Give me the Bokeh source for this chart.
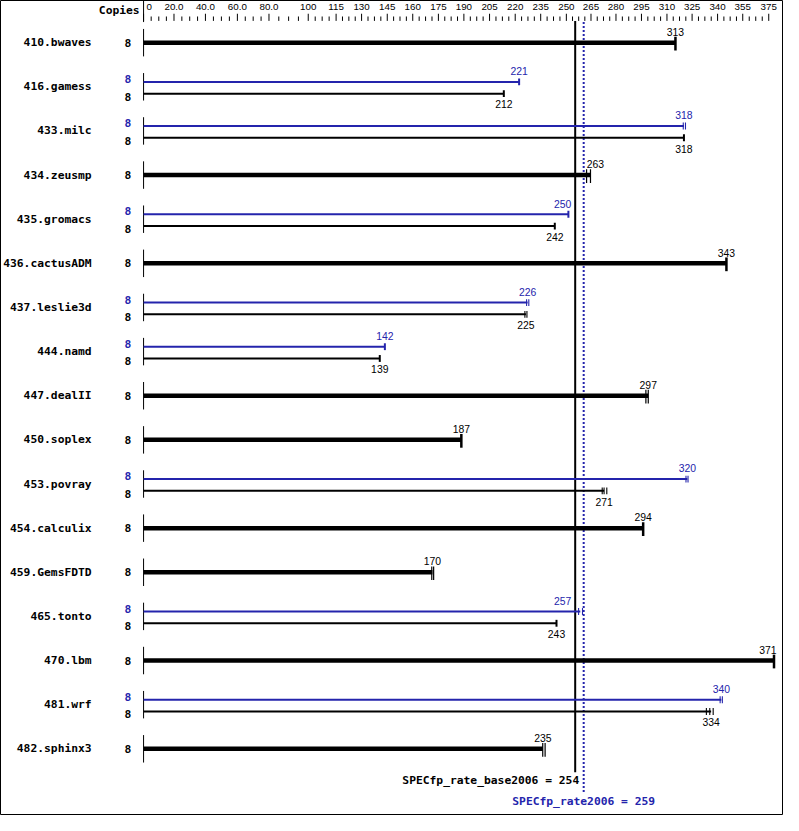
from bokeh.plotting import figure
from bokeh.models import Range1d, ColumnDataSource
from bokeh.core.properties import value
from bokeh.embed import file_html
from bokeh.resources import INLINE

# ---------------- data ----------------
benchmarks = ["410.bwaves", "416.gamess", "433.milc", "434.zeusmp", "435.gromacs",
              "436.cactusADM", "437.leslie3d", "444.namd", "447.dealII", "450.soplex",
              "453.povray", "454.calculix", "459.GemsFDTD", "465.tonto", "470.lbm",
              "481.wrf", "482.sphinx3"]
base_copies = [8, 8, 8, 8, 8, 8, 8, 8, 8, 8, 8, 8, 8, 8, 8, 8, 8]
peak_copies = [None, 8, 8, None, 8, None, 8, 8, None, None, 8, None, None, 8, None, 8, None]
base_ratio = [313, 212, 318, 263, 242, 343, 225, 139, 297, 187, 271, 294, 170, 243, 371, 334, 235]
peak_ratio = [None, 221, 318, None, 250, None, 226, 142, None, None, 320, None, None, 257, None, 340, None]
base_runs = [[313], [212], [318], [260.7, 263], [242], [343], [224.4, 225.6], [139],
             [295.6, 297], [187], [269.9, 271, 272.6], [294], [169.6, 170.7], [243],
             [371], [331.2, 333.2, 335.2], [234.9, 236.3]]
peak_runs = [None, [221], [317.6, 318.9], None, [250], None, [225.4, 226.7], [142],
             None, None, [319.2, 320.4], None, None, [256.0, 258.3], None, [339.3, 340.6], None]
tick_labels = ["0", "20.0", "40.0", "60.0", "80.0", "100", "115", "130", "145", "160",
               "175", "190", "205", "220", "235", "250", "265", "280", "295", "310",
               "325", "340", "355", "375"]
tick_values = [0, 17.9, 36.4, 55.2, 73.8, 96.9, 113.3, 128.3, 143.4, 158.4, 173.5, 188.5,
               203.6, 218.7, 233.7, 248.8, 263.3, 278.0, 293.0, 308.0, 322.8, 337.8,
               352.6, 367.9]
base_mean = 254
peak_mean = 259
base_mean_label = "SPECfp_rate_base2006 = 254"
peak_mean_label = "SPECfp_rate2006 = 259"
copies_header = "Copies"

# ---------------- layout ----------------
REF_W, REF_H = 799, 831
W, H = 783, 815
X0, PXU = 146.0, 1.734
ROW0, ROWH = 43.0, 45.0
BLACK = "#000000"
BLUE = "#2424ac"
MONO = value("DejaVu Sans Mono")
SANS = value("Liberation Sans")
MONO_SIZE = "11.3px"
SANS_SIZE = "10.4px"
TICK_SIZE = "9.8px"
LABEL_HW = 8.9  # half width of a 3-digit value label, reference px


def xu(px):
    return (px - X0) / PXU


def xp(v):
    return X0 + PXU * v


def dy(px):
    return px / ROWH


# region around the two mean lines that value labels must avoid
avoid_l = xp(base_mean) - 4
avoid_r = xp(peak_mean) + 3


def label_x(v):
    c = xp(v)
    if c + LABEL_HW > avoid_l and c - LABEL_HW < avoid_r:
        c = avoid_l - LABEL_HW if c < xp(peak_mean) else avoid_r + LABEL_HW
    c = min(c, REF_W - 7 - LABEL_HW)
    return xu(c)


p = figure(width=W, height=H, output_backend="svg", toolbar_location=None,
           x_range=Range1d(xu(0), xu(REF_W)),
           y_range=Range1d((REF_H - ROW0) / ROWH, -ROW0 / ROWH),
           x_axis_location=None, y_axis_location=None, min_border=0)
p.grid.visible = False
p.outline_line_color = BLACK
p.outline_line_width = 1
p.background_fill_color = "white"
p.border_fill_color = "white"

n = len(benchmarks)
rows = list(range(n))

# row axis stubs
p.segment(x0=[0] * n, x1=[0] * n, y0=[r - dy(14) for r in rows],
          y1=[r + dy(14) for r in rows], line_color=BLACK, line_width=1)

# benchmark names
p.text(x=[xu(93)] * n, y=rows, text=benchmarks, text_font=MONO, text_font_style="bold",
       text_font_size=MONO_SIZE, text_align="right", text_baseline="middle", text_color=BLACK)

# bars
thick = dict(x0=[], x1=[], y0=[], y1=[])
thin_b = dict(x0=[], x1=[], y0=[], y1=[])
thin_p = dict(x0=[], x1=[], y0=[], y1=[])
tick_b = dict(x0=[], x1=[], y0=[], y1=[], w=[])
tick_p = dict(x0=[], x1=[], y0=[], y1=[], w=[])
lab_b = dict(x=[], y=[], t=[])
lab_p = dict(x=[], y=[], t=[])
cop_b = dict(x=[], y=[], t=[])
cop_p = dict(x=[], y=[], t=[])

for r in rows:
    b = base_ratio[r]
    pk = peak_ratio[r]
    if pk is None:
        thick["x0"].append(0); thick["x1"].append(b); thick["y0"].append(r); thick["y1"].append(r)
        runs = base_runs[r]
        for v in runs:
            tick_b["x0"].append(v); tick_b["x1"].append(v)
            tick_b["y0"].append(r - dy(6)); tick_b["y1"].append(r + dy(8))
            tick_b["w"].append(2.5 if len(runs) == 1 else 1.2)
        lab_b["x"].append(label_x(b)); lab_b["y"].append(r - dy(11)); lab_b["t"].append(str(b))
        cop_b["x"].append(xu(130)); cop_b["y"].append(r); cop_b["t"].append(str(base_copies[r]))
    else:
        yb = r + dy(7)
        yp = r - dy(5)
        thin_b["x0"].append(0); thin_b["x1"].append(b); thin_b["y0"].append(yb); thin_b["y1"].append(yb)
        thin_p["x0"].append(0); thin_p["x1"].append(pk); thin_p["y0"].append(yp); thin_p["y1"].append(yp)
        for v in base_runs[r]:
            tick_b["x0"].append(v); tick_b["x1"].append(v)
            tick_b["y0"].append(yb - dy(3.5)); tick_b["y1"].append(yb + dy(3.5))
            tick_b["w"].append(2 if len(base_runs[r]) == 1 else 1.1)
        for v in peak_runs[r]:
            tick_p["x0"].append(v); tick_p["x1"].append(v)
            tick_p["y0"].append(yp - dy(3.5)); tick_p["y1"].append(yp + dy(3.5))
            tick_p["w"].append(2 if len(peak_runs[r]) == 1 else 1.1)
        lab_b["x"].append(label_x(b)); lab_b["y"].append(r + dy(18)); lab_b["t"].append(str(b))
        lab_p["x"].append(label_x(pk)); lab_p["y"].append(r - dy(16)); lab_p["t"].append(str(pk))
        cop_b["x"].append(xu(130)); cop_b["y"].append(r + dy(10)); cop_b["t"].append(str(base_copies[r]))
        cop_p["x"].append(xu(130)); cop_p["y"].append(r - dy(8)); cop_p["t"].append(str(peak_copies[r]))

# mean lines
p.segment(x0=[base_mean], x1=[base_mean], y0=[dy(21 - ROW0)], y1=[dy(787 - ROW0)],
          line_color=BLACK, line_width=2)
p.segment(x0=[peak_mean], x1=[peak_mean], y0=[dy(22 - ROW0)], y1=[dy(808 - ROW0)],
          line_color=BLUE, line_width=2, line_dash="2 2")

p.segment(x0="x0", x1="x1", y0="y0", y1="y1", source=ColumnDataSource(thick),
          line_color=BLACK, line_width=4.5)
p.segment(x0="x0", x1="x1", y0="y0", y1="y1", source=ColumnDataSource(thin_b),
          line_color=BLACK, line_width=2)
p.segment(x0="x0", x1="x1", y0="y0", y1="y1", source=ColumnDataSource(thin_p),
          line_color=BLUE, line_width=2)
p.segment(x0="x0", x1="x1", y0="y0", y1="y1", line_width="w", source=ColumnDataSource(tick_b),
          line_color=BLACK)
p.segment(x0="x0", x1="x1", y0="y0", y1="y1", line_width="w", source=ColumnDataSource(tick_p),
          line_color=BLUE)

p.text(x="x", y="y", text="t", source=ColumnDataSource(lab_b), text_font=SANS,
       text_font_size=SANS_SIZE, text_align="center", text_baseline="middle", text_color=BLACK)
p.text(x="x", y="y", text="t", source=ColumnDataSource(lab_p), text_font=SANS,
       text_font_size=SANS_SIZE, text_align="center", text_baseline="middle", text_color=BLUE)
p.text(x="x", y="y", text="t", source=ColumnDataSource(cop_b), text_font=MONO, text_font_style="bold",
       text_font_size=MONO_SIZE, text_align="center", text_baseline="middle", text_color=BLACK)
p.text(x="x", y="y", text="t", source=ColumnDataSource(cop_p), text_font=MONO, text_font_style="bold",
       text_font_size=MONO_SIZE, text_align="center", text_baseline="middle", text_color=BLUE)

# mean labels
p.text(x=[base_mean], y=[dy(795 - ROW0)], text=[base_mean_label], x_offset=4, text_font=MONO,
       text_font_style="bold", text_font_size=MONO_SIZE, text_align="right",
       text_baseline="middle", text_color=BLACK)
p.text(x=[peak_mean], y=[dy(817 - ROW0)], text=[peak_mean_label], text_font=MONO,
       text_font_style="bold", text_font_size=MONO_SIZE, text_align="center",
       text_baseline="middle", text_color=BLUE)

# top scale
p.text(x=[xu(142)], y=[dy(10 - ROW0)], text=[copies_header], text_font=MONO, text_font_style="bold",
       text_font_size=MONO_SIZE, text_align="right", text_baseline="middle", text_color=BLACK)
p.segment(x0=[0], x1=[0], y0=[dy(0 - ROW0)], y1=[dy(22 - ROW0)], line_color=BLACK, line_width=1)

maj_y0 = dy(13.5 - ROW0)
min_y0 = dy(16.3 - ROW0)
tick_y1 = dy(20.8 - ROW0)
p.segment(x0=tick_values, x1=tick_values, y0=[maj_y0] * len(tick_values),
          y1=[tick_y1] * len(tick_values), line_color=BLACK, line_width=1)
minor = []
for a, b2 in zip(tick_values[:-1], tick_values[1:]):
    for k in (1, 2, 3):
        minor.append(a + (b2 - a) * k / 4)
p.segment(x0=minor, x1=minor, y0=[min_y0] * len(minor), y1=[tick_y1] * len(minor),
          line_color=BLACK, line_width=1)
p.text(x=tick_values[1:], y=[dy(6.5 - ROW0)] * (len(tick_values) - 1), text=tick_labels[1:],
       text_font=SANS, text_font_size=TICK_SIZE, text_align="center", text_baseline="middle",
       text_color=BLACK)
p.text(x=tick_values[:1], y=[dy(6.5 - ROW0)], text=tick_labels[:1], x_offset=3,
       text_font=SANS, text_font_size=TICK_SIZE, text_align="left", text_baseline="middle",
       text_color=BLACK)

open("out.html", "w").write(file_html(p, INLINE))
